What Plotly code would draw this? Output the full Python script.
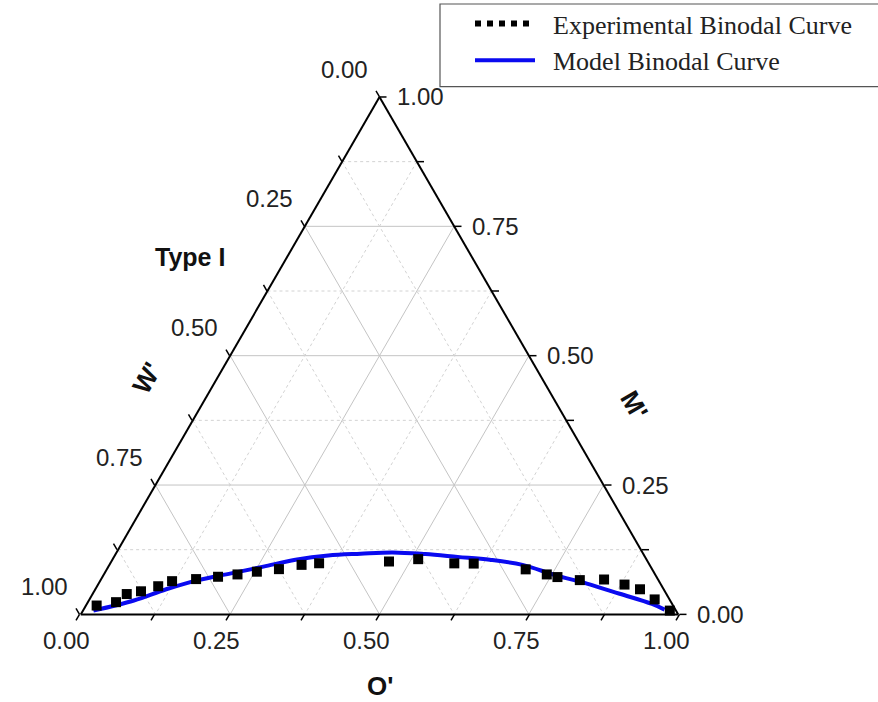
import plotly.graph_objects as go

# ---------------- data (mass fractions) ----------------
# Experimental binodal points: M' (top), W' (bottom-left), O' (bottom-right)
exp_M = [0.0171, 0.0236, 0.0393, 0.0446, 0.0544, 0.0642, 0.0682, 0.0727, 0.0772, 0.0825,
         0.0874, 0.0957, 0.0988, 0.1022, 0.1067, 0.0986, 0.0982, 0.0870, 0.0772, 0.0721,
         0.0662, 0.0674, 0.0576, 0.0485, 0.0289, 0.0073]
exp_O = [0.0180, 0.0472, 0.0573, 0.0785, 0.1024, 0.1207, 0.1589, 0.1934, 0.2237, 0.2535,
         0.2880, 0.3217, 0.3495, 0.4648, 0.5114, 0.5759, 0.6086, 0.7012, 0.7414, 0.7618,
         0.8022, 0.8422, 0.8813, 0.9118, 0.9461, 0.9823]
exp_W = [round(1 - m - o, 4) for m, o in zip(exp_M, exp_O)]

# Model binodal curve
mod_M = [0.0073, 0.0269, 0.0485, 0.0662, 0.0792, 0.0923, 0.1055, 0.1139, 0.1173, 0.1198,
         0.1165, 0.1110, 0.1055, 0.0957, 0.0760, 0.0595, 0.0399, 0.0202, 0.0092]
mod_O = [0.0175, 0.0755, 0.1188, 0.1636, 0.2119, 0.2595, 0.3066, 0.3572, 0.4097, 0.4621,
         0.5185, 0.5754, 0.6318, 0.6915, 0.7555, 0.8174, 0.8820, 0.9460, 0.9726]
mod_W = [round(1 - m - o, 4) for m, o in zip(mod_M, mod_O)]

label_vals = [0.0, 0.25, 0.5, 0.75, 1.0]
tick_vals = [0.0, 0.125, 0.25, 0.375, 0.5, 0.625, 0.75, 0.875, 1.0]
major_grid = [0.25, 0.5, 0.75]
minor_grid = [0.125, 0.375, 0.625, 0.875]

# ---------------- geometry of the ternary subplot ----------------
W, H = 878, 702
tri_w = 600.0
tri_h = tri_w * 3 ** 0.5 / 2
left = 79.5
bottom = 614.0


def to_px(a, b, c):
    """screen position (px) of a ternary point (a = top, b = left, c = right)"""
    return left + tri_w * (c + a / 2.0), bottom - tri_h * a


def to_paper(x, y):
    return x / W, 1 - y / H


def grid_lines(vals):
    a, b, c = [], [], []
    for v in vals:
        a += [v, v, None]; b += [1 - v, 0, None]; c += [0, 1 - v, None]
        a += [1 - v, 0, None]; b += [v, v, None]; c += [0, 1 - v, None]
        a += [1 - v, 0, None]; b += [0, 1 - v, None]; c += [v, v, None]
    return a, b, c


# edge points for the three labelled scales (a = M', b = W', c = O')
def left_pt(w):    # W' scale on the left edge (O' = 0)
    return 1 - w, w, 0.0


def bottom_pt(o):  # O' scale on the bottom edge (M' = 0)
    return 0.0, 1 - o, o


def right_pt(m):   # M' scale on the right edge (W' = 0)
    return m, 0.0, 1 - m


TICK = 7.0
edges = [
    (left_pt, (-0.5, -0.866), (-35, -28)),
    (bottom_pt, (-0.5, 0.866), (-13, 26)),
    (right_pt, (1.0, 0.0), (41, 0)),
]

font_sans = "Liberation Sans, Arial"
shapes = [dict(type="rect", xref="paper", yref="paper",
               x0=440 / W, x1=1.01, y0=1 - 84 / H, y1=1 - 1 / H,
               line=dict(color="#555", width=1.2), fillcolor="rgba(0,0,0,0)")]
annotations = []
for pt, tdir, loff in edges:
    for v in tick_vals:
        x0, y0 = to_px(*pt(v))
        x1, y1 = x0 + tdir[0] * TICK, y0 + tdir[1] * TICK
        p0, p1 = to_paper(x0, y0), to_paper(x1, y1)
        shapes.append(dict(type="line", xref="paper", yref="paper",
                           x0=p0[0], y0=p0[1], x1=p1[0], y1=p1[1],
                           line=dict(color="black", width=1.5)))
    for v in label_vals:
        x0, y0 = to_px(*pt(v))
        px, py = to_paper(x0 + loff[0], y0 + loff[1])
        annotations.append(dict(text="%.2f" % v, x=px, y=py, xref="paper", yref="paper",
                                xanchor="center", yanchor="middle", showarrow=False,
                                font=dict(family=font_sans, size=24, color="#222")))

annotations += [
    dict(text="<b>Type I</b>", x=190 / W, y=1 - 255 / H, xref="paper", yref="paper",
         xanchor="center", yanchor="middle", showarrow=False,
         font=dict(family=font_sans, size=25, color="#111")),
    dict(text="<b>W'</b>", x=147 / W, y=1 - 377 / H, xref="paper", yref="paper",
         xanchor="center", yanchor="middle", showarrow=False, textangle=-60,
         font=dict(family=font_sans, size=26, color="#111")),
    dict(text="<b>M'</b>", x=634 / W, y=1 - 404 / H, xref="paper", yref="paper",
         xanchor="center", yanchor="middle", showarrow=False, textangle=60,
         font=dict(family=font_sans, size=26, color="#111")),
    dict(text="<b>O'</b>", x=380 / W, y=1 - 686 / H, xref="paper", yref="paper",
         xanchor="center", yanchor="middle", showarrow=False,
         font=dict(family=font_sans, size=26, color="#111")),
]

fig = go.Figure()

ga, gb, gc = grid_lines(major_grid)
fig.add_trace(go.Scatterternary(a=ga, b=gb, c=gc, mode="lines", showlegend=False,
                                hoverinfo="skip", line=dict(color="#c4c4c4", width=1)))
ga, gb, gc = grid_lines(minor_grid)
fig.add_trace(go.Scatterternary(a=ga, b=gb, c=gc, mode="lines", showlegend=False,
                                hoverinfo="skip",
                                line=dict(color="#d2d2d2", width=1, dash="dot")))

# legend entry for experimental points (dotted style as in reference)
fig.add_trace(go.Scatterternary(a=[None], b=[None], c=[None], mode="lines",
                                name="\u2002Experimental Binodal Curve",
                                line=dict(color="black", width=6, dash="dot")))
fig.add_trace(go.Scatterternary(a=mod_M, b=mod_W, c=mod_O, mode="lines",
                                name="\u2002Model Binodal Curve", cliponaxis=False,
                                line=dict(color="#0a0af0", width=4, shape="spline")))
fig.add_trace(go.Scatterternary(a=exp_M, b=exp_W, c=exp_O, mode="markers",
                                showlegend=False, name="Experimental", cliponaxis=False,
                                marker=dict(symbol="square", size=10, color="black")))

axis_common = dict(
    tickmode="array", tickvals=tick_vals, showticklabels=False, ticks="",
    showgrid=False, showline=True, linecolor="black", linewidth=2,
    title=dict(text=""), min=0,
)

fig.update_layout(
    width=W, height=H,
    margin=dict(l=0, r=0, t=0, b=0),
    paper_bgcolor="white",
    ternary=dict(
        sum=1,
        bgcolor="white",
        domain=dict(x=[left / W, (left + tri_w) / W],
                    y=[(H - bottom) / H, (H - bottom + tri_h) / H]),
        aaxis=axis_common,
        baxis=axis_common,
        caxis=axis_common,
    ),
    showlegend=True,
    legend=dict(x=470 / W, y=1 + 3 / H, xanchor="left", yanchor="top",
                bgcolor="rgba(0,0,0,0)", borderwidth=0,
                font=dict(family="Liberation Serif, Times New Roman", size=26, color="#222"),
                itemwidth=60, tracegroupgap=0),
    shapes=shapes,
    annotations=annotations,
)

fig.write_html("out.html")
